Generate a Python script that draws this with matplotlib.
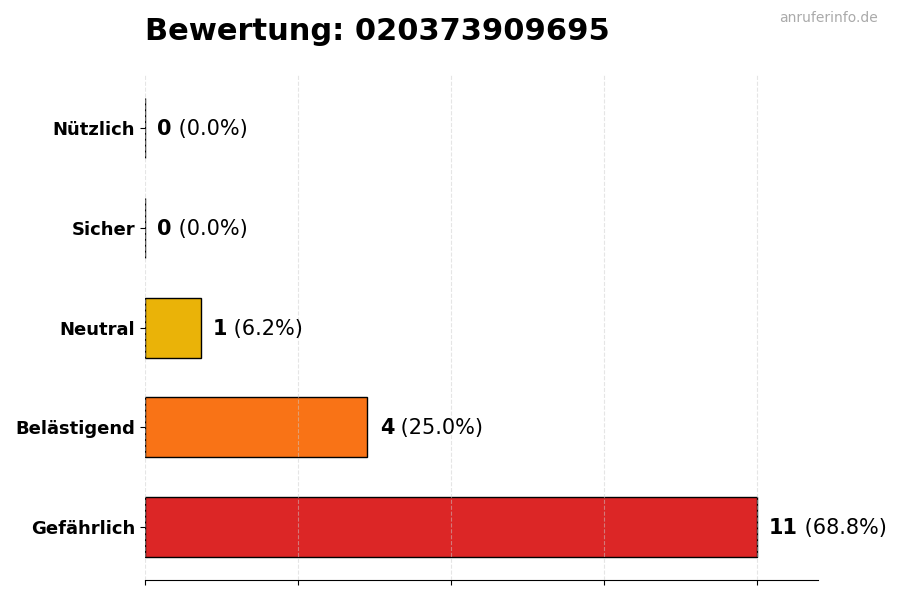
import matplotlib
matplotlib.use("Agg")
import matplotlib.pyplot as plt
import numpy as np

categories = ["Gefährlich", "Belästigend", "Neutral", "Sicher", "Nützlich"]
counts = [11, 4, 1, 0, 0]
colors = ["#dc2626", "#f97316", "#eab308", "#22c55e", "#16a34a"]
title = "Bewertung: 020373909695"

total = sum(counts)
fig = plt.figure(figsize=(9, 6), dpi=100)
ax = fig.add_axes([0.161, 0.033, 0.748, 0.842])

y = np.arange(len(categories))
ax.barh(y, counts, height=0.6, color=colors, edgecolor="black", linewidth=1, zorder=2)
xmax = max(counts) * 1.1
ax.set_xlim(0, xmax)
ax.set_xticks(np.linspace(0, max(counts), 5))
ax.set_xticklabels([])
ax.grid(axis="x", ls="--", color="#cccccc", lw=0.8, alpha=0.5, zorder=3)
ax.set_axisbelow(False)

ax.set_yticks(y)
ax.set_yticklabels(categories, fontsize=13, fontweight="bold")
for s in ["top", "right", "left"]:
    ax.spines[s].set_visible(False)

off = max(counts) * 0.02
for yi, c in zip(y, counts):
    pct = 100 * c / total
    t = ax.text(c + off, yi - 0.01, f"{c}", fontsize=15, fontweight="bold", va="center", ha="left")
    fig.canvas.draw()
    bb = t.get_window_extent().transformed(ax.transData.inverted())
    ax.text(bb.x1, yi - 0.01, f" ({pct:.1f}%)", fontsize=15, va="center", ha="left")

fig.text(0.161, 0.947, title, fontsize=22, fontweight="bold", ha="left", va="center")
fig.text(0.975, 0.97, "anruferinfo.de", fontsize=10, color="#aaaaaa", ha="right", va="center")

fig.savefig("out.png", dpi=100)
